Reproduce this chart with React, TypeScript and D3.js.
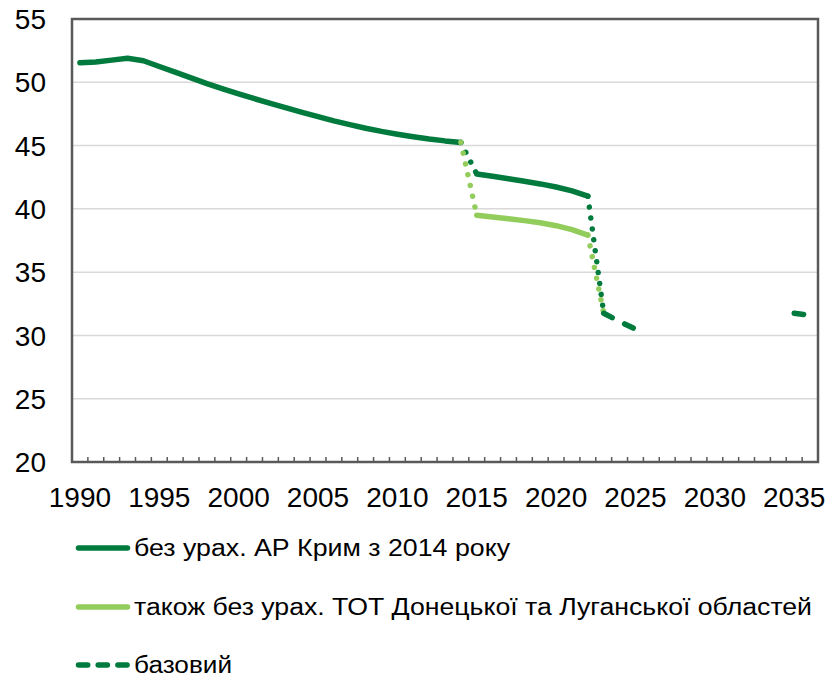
import React from "react";
import * as d3 from "d3";

const years: number[] = d3.range(1990, 2037);

const historyYears = [1990,1991,1992,1993,1994,1995,1996,1997,1998,1999,2000,2001,2002,2003,2004,2005,2006,2007,2008,2009,2010,2011,2012,2013,2014];
const historyValues = [51.55,51.6,51.75,51.9,51.7,51.25,50.8,50.35,49.9,49.48,49.08,48.7,48.33,47.97,47.62,47.28,46.95,46.65,46.37,46.12,45.9,45.7,45.52,45.37,45.25];

const segYears = [2015,2016,2017,2018,2019,2020,2021,2022];
const noCrimeaValues = [42.75,42.57,42.38,42.18,41.97,41.73,41.42,41.0];
const noTotValues = [39.5,39.36,39.22,39.07,38.9,38.67,38.36,37.93];

const baseYears = [2023,2024,2025,null,2035,2036];
const baseValues = [31.75,31.1,30.5,null,31.75,31.6];

// dotted connectors
const darkDotA = { years: [2014, 2015], values: [45.25, 42.75] };
const darkDotB = { years: [2022, 2023], values: [41.0, 31.75] };
const lightDotA = { years: [2014, 2015], values: [45.25, 39.5] };
const lightDotB = { years: [2022, 2023], values: [37.93, 31.75] };

const yTicks = [20, 25, 30, 35, 40, 45, 50, 55];
const xLabelYears = [1990, 1995, 2000, 2005, 2010, 2015, 2020, 2025, 2030, 2035];

const legendLabels = [
  "без урах. АР Крим з 2014 року",
  "також без урах. ТОТ Донецької та Луганської областей",
  "базовий",
];

const DARK = "#007A3D";
const LIGHT = "#92CD5C";
const AXIS = "#595959";
const GRID = "#D9D9D9";
const FONT = "'Liberation Sans', Arial, sans-serif";

export default function App() {
  const left = 72, right = 818, top = 19, bottom = 462;
  const x = d3.scaleBand<number>().domain(years).range([left, right]).paddingInner(0).paddingOuter(0);
  const xc = (yr: number) => (x(yr) as number) + x.bandwidth() / 2;
  const y = d3.scaleLinear().domain([20, 55]).range([bottom, top]);

  const line = d3
    .line<[number | null, number | null]>()
    .defined((d) => d[0] != null && d[1] != null)
    .x((d) => xc(d[0] as number))
    .y((d) => y(d[1] as number));

  const zip = (ys: (number | null)[], vs: (number | null)[]) =>
    ys.map((yy, i) => [yy, vs[i]] as [number | null, number | null]);

  const solidW = 5.5;
  const dotStyle = { strokeDasharray: "0.01 11", strokeLinecap: "round" as const, strokeWidth: 5.5, fill: "none" };

  const tickPositions = years.map((yr) => x(yr) as number).concat([right]);
  const legendY = [548, 607, 665];
  const legendLen = [376, 678, 98];

  return (
    <svg width={828} height={678} style={{ position: "absolute", left: 0, top: 0 }}>
      <rect x={0} y={0} width={828} height={678} fill="#fff" />
      {yTicks.filter((t) => t > 20 && t < 55).map((t) => (
        <line key={t} x1={left} x2={right} y1={y(t)} y2={y(t)} stroke={GRID} strokeWidth={1.5} />
      ))}
      {tickPositions.map((p, i) => (
        <line key={i} x1={p} x2={p} y1={bottom} y2={bottom - 5} stroke={AXIS} strokeWidth={1.5} />
      ))}
      <rect x={left} y={top} width={right - left} height={bottom - top} fill="none" stroke={AXIS} strokeWidth={2.5} />

      <path d={line(zip(historyYears, historyValues)) || ""} stroke={DARK} strokeWidth={solidW} fill="none" strokeLinecap="round" strokeLinejoin="round" />
      <path d={line(zip(segYears, noCrimeaValues)) || ""} stroke={DARK} strokeWidth={solidW} fill="none" strokeLinecap="round" strokeLinejoin="round" />
      <path d={line(zip(darkDotA.years, darkDotA.values)) || ""} stroke={DARK} {...dotStyle} />
      <path d={line(zip(darkDotB.years, darkDotB.values)) || ""} stroke={DARK} {...dotStyle} />
      <path d={line(zip(segYears, noTotValues)) || ""} stroke={LIGHT} strokeWidth={solidW} fill="none" strokeLinecap="round" strokeLinejoin="round" />
      <path d={line(zip(lightDotA.years, lightDotA.values)) || ""} stroke={LIGHT} {...dotStyle} />
      <path d={line(zip(lightDotB.years, lightDotB.values)) || ""} stroke={LIGHT} {...dotStyle} />
      <path d={line(zip(baseYears, baseValues)) || ""} stroke={DARK} strokeWidth={solidW} fill="none" strokeLinecap="round" strokeDasharray="9.5 14" />

      {yTicks.map((t) => (
        <text key={t} x={46} y={y(t)} dy="0.36em" textAnchor="end" fontFamily={FONT} fontSize={28} fill="#000">
          {t}
        </text>
      ))}
      {xLabelYears.map((yr) => (
        <text key={yr} x={xc(yr)} y={507} textAnchor="middle" fontFamily={FONT} fontSize={28} fill="#000">
          {yr}
        </text>
      ))}

      {legendLabels.map((lab, i) => {
        const ly = legendY[i];
        const col = i === 1 ? LIGHT : DARK;
        return (
          <g key={i}>
            <line x1={78.5} x2={127.5} y1={ly} y2={ly} stroke={col} strokeWidth={solidW} strokeLinecap="round" strokeDasharray={i === 2 ? "9.2 10.5" : undefined} />
            <text x={134} y={ly} dy="0.36em" fontFamily={FONT} fontSize={23} fill="#000" textLength={legendLen[i]} lengthAdjust="spacingAndGlyphs">
              {lab}
            </text>
          </g>
        );
      })}
    </svg>
  );
}
